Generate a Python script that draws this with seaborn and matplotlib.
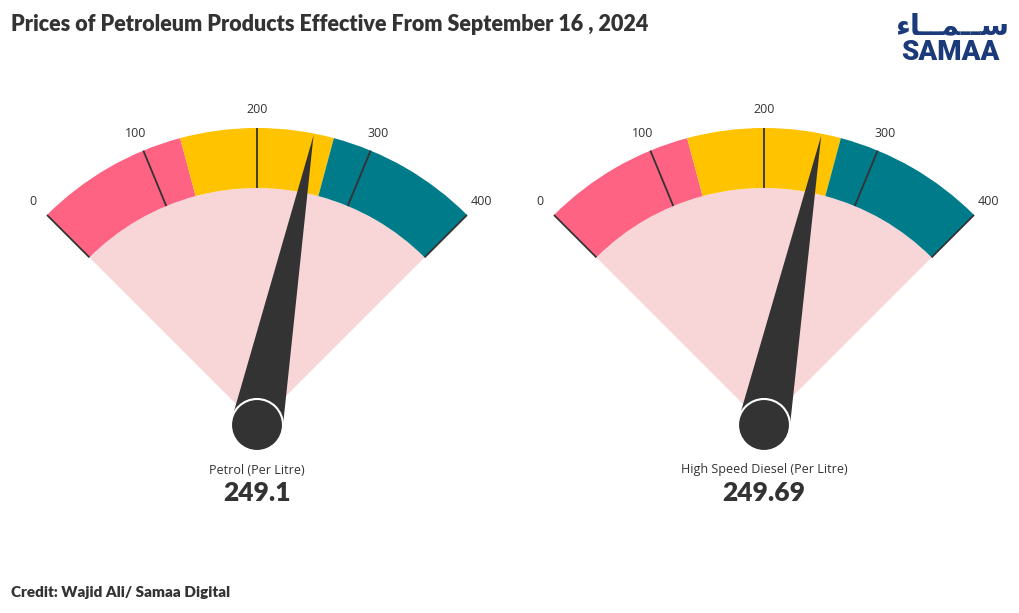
import numpy as np
import matplotlib
matplotlib.use("Agg")
import matplotlib.pyplot as plt
from matplotlib.patches import Wedge, Circle, Polygon
import seaborn as sns

# ---- data ----
products = ["Petrol (Per Litre)", "High Speed Diesel (Per Litre)"]
prices = [249.1, 249.69]
value_labels = ["249.1", "249.69"]
band_edges = [0, 133.33, 266.67, 400]
tick_values = [0, 100, 200, 300, 400]
tick_labels = ["0", "100", "200", "300", "400"]

title = "Prices of Petroleum Products Effective From September 16 , 2024"
credit = "Credit: Wajid Ali/ Samaa Digital"

sns.set_theme(style="white")
plt.rcParams['font.family'] = ['Lato', 'DejaVu Sans']

band_colors = sns.color_palette(["#FF6384", "#FFC300", "#007B8A"])
inner_color = "#F8D5D6"
dark = "#333333"

W, H = 1020, 613
fig = plt.figure(figsize=(W / 100, H / 100), dpi=100)
ax = fig.add_axes([0, 0, 1, 1])
ax.set_xlim(0, W)
ax.set_ylim(0, H)
ax.set_aspect("equal")
ax.axis("off")

vmin, vmax = tick_values[0], tick_values[-1]
a_start, a_end = 135.0, 45.0   # degrees for vmin, vmax
R_out, R_in, R_lab = 297, 237, 317
pivot_r = 26


def ang(v):
    return a_start + (v - vmin) / (vmax - vmin) * (a_end - a_start)


centers_x = [257, 764]
cy = H - 425

for cx, prod, price, vlab in zip(centers_x, products, prices, value_labels):
    # inner fill
    ax.add_patch(Wedge((cx, cy), R_in, a_end, a_start, facecolor=inner_color,
                       edgecolor="none", zorder=1))
    # coloured bands
    for i, col in enumerate(band_colors):
        lo, hi = band_edges[i], band_edges[i + 1]
        ax.add_patch(Wedge((cx, cy), R_out, ang(hi), ang(lo), width=R_out - R_in,
                           facecolor=col, edgecolor="none", zorder=2))
    # ticks and labels
    for tv, tl in zip(tick_values, tick_labels):
        t = np.radians(ang(tv))
        ax.plot([cx + R_in * np.cos(t), cx + R_out * np.cos(t)],
                [cy + R_in * np.sin(t), cy + R_out * np.sin(t)],
                color=dark, lw=1.3, zorder=3, solid_capstyle="butt")
        ax.text(cx + R_lab * np.cos(t), cy + R_lab * np.sin(t) - 1, tl,
                ha="center", va="center", fontsize=9, color=dark,
                family=['Open Sans', 'DejaVu Sans'])
    # needle
    t = np.radians(ang(price))
    tip = (cx + (R_out - 2) * np.cos(t), cy + (R_out - 2) * np.sin(t))
    px, py = -np.sin(t), np.cos(t)
    b1 = (cx + pivot_r * px, cy + pivot_r * py)
    b2 = (cx - pivot_r * px, cy - pivot_r * py)
    ax.add_patch(Polygon([b1, tip, b2], closed=True, facecolor=dark,
                         edgecolor="none", zorder=4))
    ax.add_patch(Circle((cx, cy), pivot_r, facecolor=dark, edgecolor="white",
                        lw=1.5, zorder=5))
    # labels
    ax.text(cx, H - 470, prod, ha="center", va="center", fontsize=9,
            color=dark, family=['Open Sans', 'DejaVu Sans'])
    ax.text(cx, H - 493, vlab, ha="center", va="center", fontsize=19,
            fontweight="heavy", color=dark)

# title and credit
ax.text(11, H - 24, title, ha="left", va="center", fontsize=15.5,
        fontweight="heavy", color=dark)
ax.text(11, H - 593, credit, ha="left", va="center", fontsize=11,
        fontweight="heavy", color=dark)

# logo
navy = "#1B3A7A"
ax.text(950, H - 52, "SAMAA", ha="center", va="center", fontsize=20,
        fontweight="black", color=navy, family=['Roboto', 'DejaVu Sans'])
ax.text(952, H - 26, "\uFE80\uFE8E\u0640\u0640\uFEE4\u0640\u0640\uFEB3",
        ha="center", va="center", fontsize=21, fontweight="bold",
        color=navy, family=['DejaVu Sans'])

fig.savefig("out.png", dpi=100, facecolor="white")
